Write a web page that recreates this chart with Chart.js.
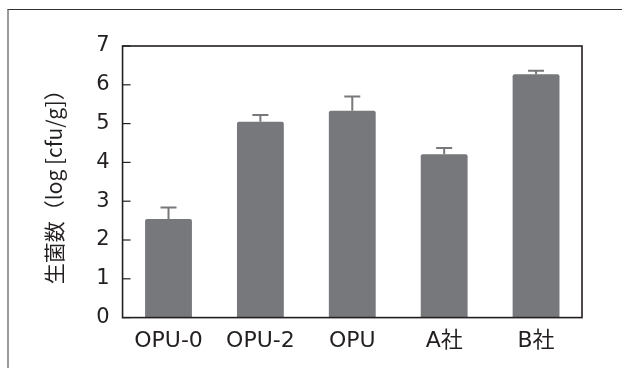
<!DOCTYPE html>
<html>
<head>
<meta charset="utf-8">
<script src="https://cdn.jsdelivr.net/npm/chart.js@4/dist/chart.umd.min.js"></script>
<style>
  body { margin: 0; background: #fff; }
  #wrap { position: relative; width: 622px; height: 368px; overflow: hidden; }
  #frame { position: absolute; left: 7px; top: 9px; width: 700px; height: 400px;
           border-top: 1px solid #333; border-left: 2px solid #9a9a9a; }
  #chart { position: absolute; left: 0; top: 0; }
</style>
</head>
<body>
<div id="wrap">
  <div id="frame"></div>
  <canvas id="chart" width="622" height="368"></canvas>
</div>
<script>
// bar chart of viable counts with upper error bars
const categories = ['OPU-0', 'OPU-2', 'OPU', 'A社', 'B社'];
const values = [2.54, 5.05, 5.33, 4.21, 6.27];
const errors = [0.30, 0.17, 0.37, 0.16, 0.09];
const yTicks = [0, 1, 2, 3, 4, 5, 6, 7];

const barColor = '#77787b';
const inkColor = '#231f20';

// frame box, inward ticks on the left axis and error bars
const decorations = {
    id: 'decorations',
    afterDatasetsDraw(chart) {
        const ctx = chart.ctx;
        const area = chart.chartArea;
        const y = chart.scales.y;
        const meta = chart.getDatasetMeta(0);

        ctx.save();
        // error bars
        ctx.strokeStyle = barColor;
        ctx.lineWidth = 2;
        meta.data.forEach((bar, i) => {
            const top = y.getPixelForValue(values[i] + errors[i]);
            ctx.beginPath();
            ctx.moveTo(bar.x, bar.y);
            ctx.lineTo(bar.x, top);
            ctx.moveTo(bar.x - 8, top);
            ctx.lineTo(bar.x + 8, top);
            ctx.stroke();
        });

        // plot box
        ctx.strokeStyle = inkColor;
        ctx.lineWidth = 1.6;
        ctx.strokeRect(area.left, area.top, area.right - area.left, area.bottom - area.top);

        // short inward ticks
        ctx.lineWidth = 1.2;
        yTicks.forEach(v => {
            const py = y.getPixelForValue(v);
            ctx.beginPath();
            ctx.moveTo(area.left, py);
            ctx.lineTo(area.left + 8, py);
            ctx.stroke();
        });
        ctx.restore();
    }
};

const ctx = document.getElementById('chart').getContext('2d');
const chart = new Chart(ctx, {
    type: 'bar',
    data: {
        labels: categories,
        datasets: [{
            data: values,
            backgroundColor: barColor,
            borderRadius: 2,
            borderSkipped: 'bottom',
            barPercentage: 0.51,
            categoryPercentage: 1.0
        }]
    },
    options: {
        responsive: false,
        animation: false,
        layout: {
            padding: { left: 0, right: 40, top: 46, bottom: 4 }
        },
        plugins: {
            legend: { display: false },
            tooltip: { enabled: false }
        },
        scales: {
            x: {
                grid: { display: false, drawTicks: false },
                border: { display: false },
                ticks: {
                    color: inkColor,
                    padding: 10,
                    font: { family: "'DejaVu Sans', 'Noto Sans CJK JP'", size: 22 }
                }
            },
            y: {
                min: 0,
                max: 7,
                grid: { display: false, drawTicks: false },
                border: { display: false },
                afterBuildTicks: axis => {
                    axis.ticks = yTicks.map(v => ({ value: v }));
                },
                ticks: {
                    color: inkColor,
                    padding: 13,
                    font: { family: "'DejaVu Sans'", size: 21 }
                },
                title: {
                    display: true,
                    text: '生菌数（log [cfu/g]）',
                    color: inkColor,
                    padding: { top: 41, bottom: 17 },
                    font: { family: "'Noto Sans CJK JP'", size: 21 }
                }
            }
        }
    },
    plugins: [decorations]
});
</script>
</body>
</html>
